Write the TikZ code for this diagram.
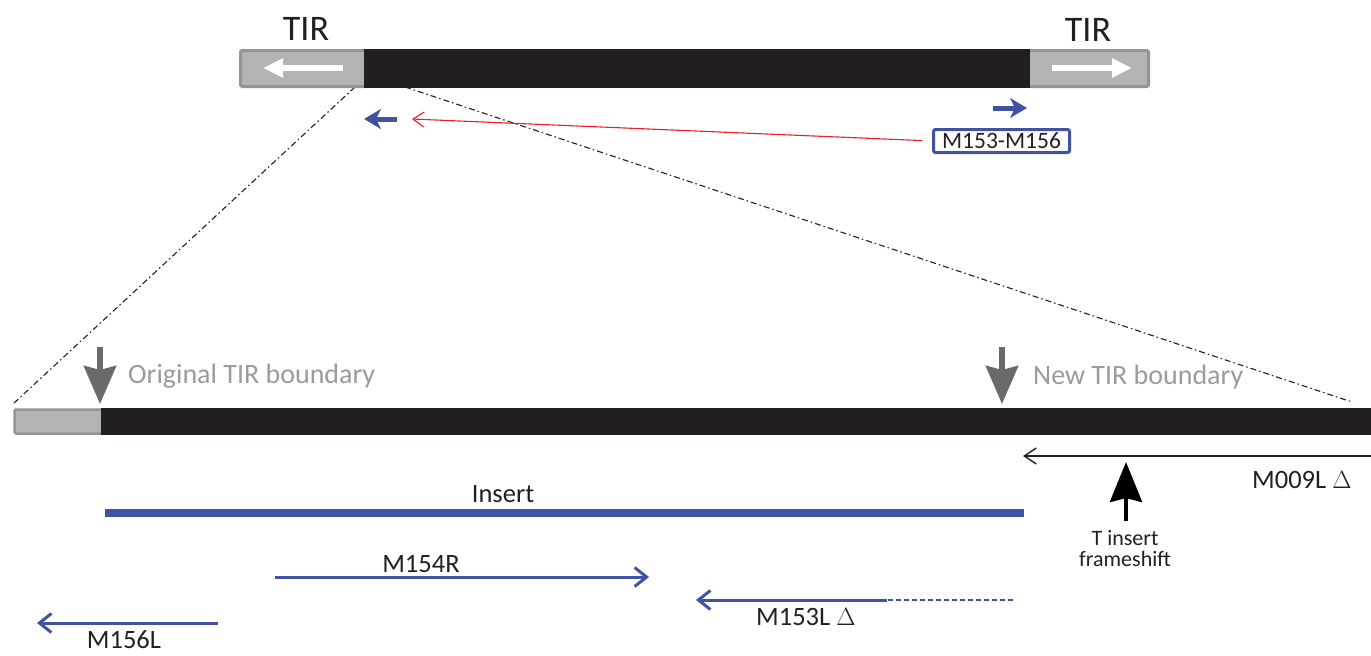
\documentclass[tikz,border=0pt]{standalone}
\usepackage{fontspec}
\setmainfont{Carlito}
\usetikzlibrary{arrows.meta}
\definecolor{barblack}{HTML}{231F20}
\definecolor{tirfill}{HTML}{B3B3B3}
\definecolor{tirline}{HTML}{949494}
\definecolor{bluel}{RGB}{64,82,163}
\definecolor{arrgray}{HTML}{6A6A6A}
\definecolor{txtgray}{HTML}{9B9B9B}
\definecolor{redl}{HTML}{ED1C24}
\tikzset{
  tirbox/.style={draw=tirline, fill=tirfill, line width=3pt, rounded corners=1.5pt},
  blackbar/.style={fill=barblack},
  whitearr/.style={draw=white, line width=6.5pt, -{Triangle[length=20pt,width=18pt]}},
  bluesmall/.style={draw=bluel, line width=5pt, -{Stealth[length=17pt,width=20pt,inset=5pt]}},
  dashdotline/.style={draw=barblack, line width=1.1pt, dash pattern=on 6pt off 3pt on 1.5pt off 3pt},
  redarr/.style={draw=redl, line width=1.1pt, -{Straight Barb[length=11pt,width=15pt]}},
  grayarr/.style={draw=arrgray, line width=6pt, -{Stealth[length=38pt,width=32pt,inset=4pt]}},
  blackarr/.style={draw=black, line width=4.5pt, -{Stealth[length=40pt,width=32pt,inset=4pt]}},
  thinblack/.style={draw=barblack, line width=1.4pt, -{Straight Barb[length=12pt,width=16pt]}},
  bluearr/.style={draw=bluel, line width=3pt, -{Straight Barb[length=12pt,width=19pt]}},
  lbl/.style={inner sep=0pt, text=barblack, font=\fontsize{26.5}{30}\selectfont},
  graylbl/.style={inner sep=0pt, text=txtgray, font=\fontsize{28}{32}\selectfont},
  tirlbl/.style={inner sep=0pt, text=barblack, font=\fontsize{36}{40}\selectfont},
  smalllbl/.style={inner sep=0pt, text=barblack, font=\fontsize{22}{20.5}\selectfont, align=center},
  boxlbl/.style={draw=bluel, line width=3pt, rounded corners=2pt, text=barblack,
    font=\fontsize{23.5}{26}\selectfont, minimum width=136pt, minimum height=23pt, inner sep=0pt}
}
\begin{document}
\begin{tikzpicture}[x=1pt,y=-1pt]
\useasboundingbox (0,0) rectangle (1371,656);

% ---------- dash-dot zoom lines
\coordinate (zl1) at (355,87);
\coordinate (zl2) at (13,404);
\coordinate (zr1) at (405,87);
\coordinate (zr2) at (1352,402);
\draw[dashdotline] (zl1) -- (zl2);
\draw[dashdotline] (zr1) -- (zr2);

% ---------- top element
\draw[tirbox] (240.5,50.5) rectangle (366,86.5);
\draw[tirbox] (1028,50.5) rectangle (1148.5,86.5);
\fill[blackbar] (364,49) rectangle (1030,88);
\node[tirlbl, anchor=base] (tirL) at (306,40) {TIR};
\node[tirlbl, anchor=base] (tirR) at (1088,41) {TIR};
\coordinate (wl1) at (343,68); \coordinate (wl2) at (263,68);
\coordinate (wr1) at (1052,68); \coordinate (wr2) at (1132,68);
\draw[whitearr] (wl1) -- (wl2);
\draw[whitearr] (wr1) -- (wr2);

% small blue primer arrows
\coordinate (bl1) at (397,119); \coordinate (bl2) at (364,119);
\coordinate (br1) at (993,108); \coordinate (br2) at (1027,108);
\draw[bluesmall] (bl1) -- (bl2);
\draw[bluesmall] (br1) -- (br2);

% M153-M156 box and red pointer
\node[boxlbl] (box) at (1001.5,141) {M153-M156};
\coordinate (redtip) at (412,119);
\draw[redarr, shorten <=10pt] (box.west) -- (redtip);

% ---------- bottom element
\draw[tirbox, line width=2.5pt] (14.5,409.5) rectangle (103,433.5);
\fill[blackbar] (101,408) rectangle (1371,435);

\coordinate (ga1) at (100,347); \coordinate (ga2) at (100,404);
\coordinate (gb1) at (1002,347); \coordinate (gb2) at (1002,404);
\draw[grayarr] (ga1) -- (ga2);
\draw[grayarr] (gb1) -- (gb2);
\node[graylbl, anchor=base west] (orig) at (128,383) {Original TIR boundary};
\node[graylbl, anchor=base west] (newb) at (1033,384) {New TIR boundary};

% M009L
\coordinate (m9a) at (1371,456); \coordinate (m9b) at (1023,456);
\draw[thinblack] (m9a) -- (m9b);
\node[lbl, anchor=base west] (m9l) at (1252,488) {M009L $\Delta$};

% T insert frameshift
\coordinate (ta1) at (1126,521); \coordinate (ta2) at (1126,462);
\draw[blackarr] (ta1) -- (ta2);
\node[smalllbl, anchor=base] (tlbl) at (1125,566) {T insert\\frameshift};

% Insert
\coordinate (ins1) at (105,512.5); \coordinate (ins2) at (1024,512.5);
\draw[draw=bluel, line width=8pt] (ins1) -- (ins2);
\node[lbl, anchor=base] (inslbl) at (503,502) {Insert};

% M154R
\coordinate (r1) at (275,577); \coordinate (r2) at (649,577);
\draw[bluearr] (r1) -- (r2);
\node[lbl, anchor=base] (m154) at (421,572) {M154R};

% M153L
\coordinate (l3a) at (1013,600); \coordinate (l3m) at (887,600); \coordinate (l3b) at (696,600);
\draw[draw=bluel, line width=2pt, dash pattern=on 5pt off 3pt] (l3a) -- (l3m);
\draw[bluearr] (l3m) -- (l3b);
\node[lbl, anchor=base west] (m153) at (756,625) {M153L $\Delta$};

% M156L
\coordinate (l6a) at (218,623); \coordinate (l6b) at (37,623);
\draw[bluearr] (l6a) -- (l6b);
\node[lbl, anchor=base] (m156) at (124,648) {M156L};
\end{tikzpicture}
\end{document}
